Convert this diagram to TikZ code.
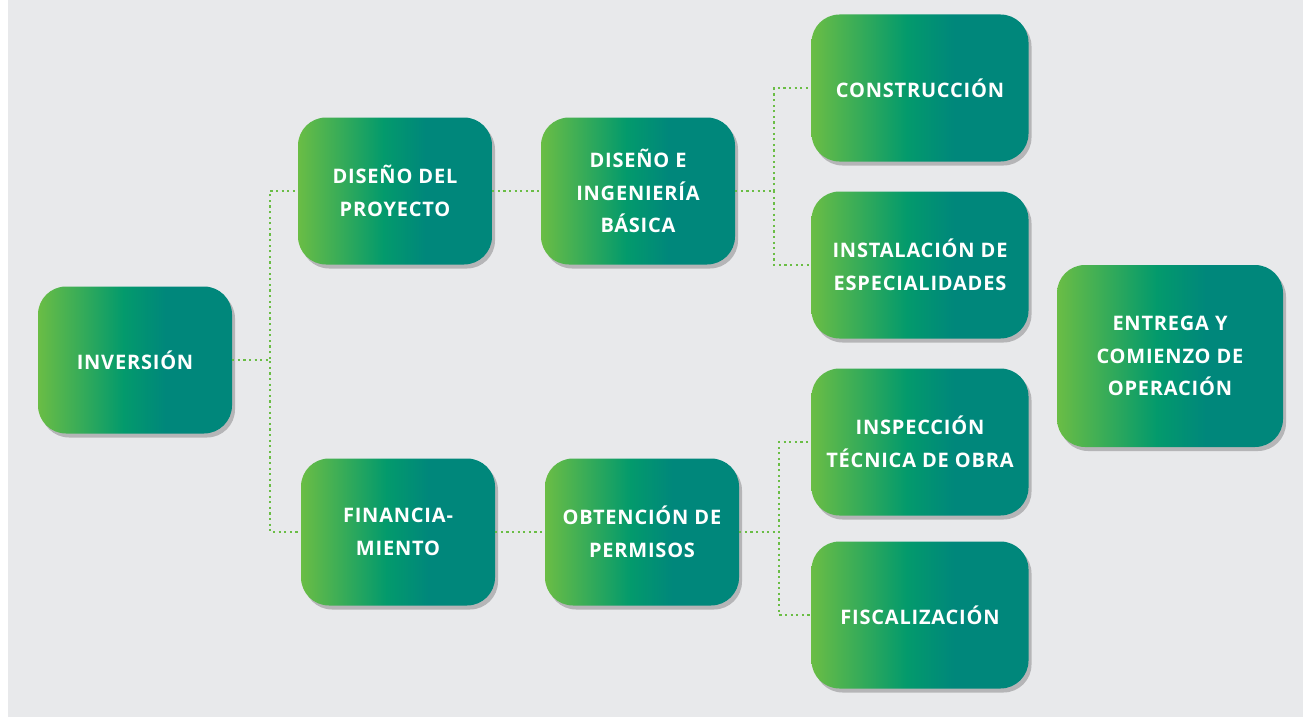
\documentclass[tikz,border=0pt]{standalone}
\usepackage{fontspec}
\setmainfont{Open Sans}[LetterSpace=4]
\usetikzlibrary{shadows}

\definecolor{gleft}{HTML}{6ABD45}
\definecolor{gmid}{HTML}{039A6C}
\definecolor{gright}{HTML}{00877B}
\definecolor{bggray}{HTML}{E8E9EB}
\definecolor{dotgreen}{HTML}{6ABD45}

% left-to-right green/teal fill of the boxes (box spans 25bp..75bp)
\pgfdeclarehorizontalshading{stagegrad}{100bp}{color(0bp)=(gleft); color(25bp)=(gleft);
  color(47bp)=(gmid); color(58bp)=(gright); color(100bp)=(gright)}

\begin{document}
\begin{tikzpicture}[x=1pt,y=-1pt,
    stage/.style={rectangle, rounded corners=28pt, shading=stagegrad,
      minimum width=194pt, minimum height=147pt, inner sep=0pt,
      align=center, text=white, font=\bfseries\fontsize{20}{32.5}\selectfont,
      drop shadow={shadow xshift=3pt, shadow yshift=-4pt, opacity=0.22, fill=black}},
    wide/.style={minimum width=217pt},
    link/.style={dotgreen, line width=2.2pt, dash pattern=on 2.2pt off 3.4pt}]

  % Background
  \useasboundingbox (0,0) rectangle (1303,717);
  \fill[white] (0,0) rectangle (8,717);
  \fill[bggray] (8,0) rectangle (1303,717);

  % Stages
  \node[stage] (inv)  at (135,360) {INVERSIÓN};
  \node[stage] (dpro) at (395,191) {DISEÑO DEL\\PROYECTO};
  \node[stage] (ding) at (638,191) {DISEÑO E\\INGENIERÍA\\BÁSICA};
  \node[stage] (fin)  at (398,532) {FINANCIA-\\MIENTO};
  \node[stage] (obt)  at (642,532) {OBTENCIÓN DE\\PERMISOS};

  \node[stage, wide] (cons) at (920,88)  {CONSTRUCCIÓN};
  \node[stage, wide] (inst) at (920,265) {INSTALACIÓN DE\\ESPECIALIDADES};
  \node[stage, wide] (insp) at (920,442) {INSPECCIÓN\\TÉCNICA DE OBRA};
  \node[stage, wide] (fisc) at (920,615) {FISCALIZACIÓN};

  \node[stage, minimum width=226pt, minimum height=182pt] (entr) at (1170,356)
    {ENTREGA Y\\COMIENZO DE\\OPERACIÓN};

  % Connectors
  \draw[link] (inv.east) -- ++(38,0) |- (dpro.west);
  \draw[link] (inv.east) -- ++(38,0) |- (fin.west);
  \draw[link] (dpro) -- (ding);
  \draw[link] (fin) -- (obt);
  \draw[link] (ding.east) -- ++(39,0) |- (cons.west);
  \draw[link] (ding.east) -- ++(39,0) |- (inst.west);
  \draw[link] (obt.east) -- ++(40,0) |- (insp.west);
  \draw[link] (obt.east) -- ++(40,0) |- (fisc.west);
\end{tikzpicture}
\end{document}
